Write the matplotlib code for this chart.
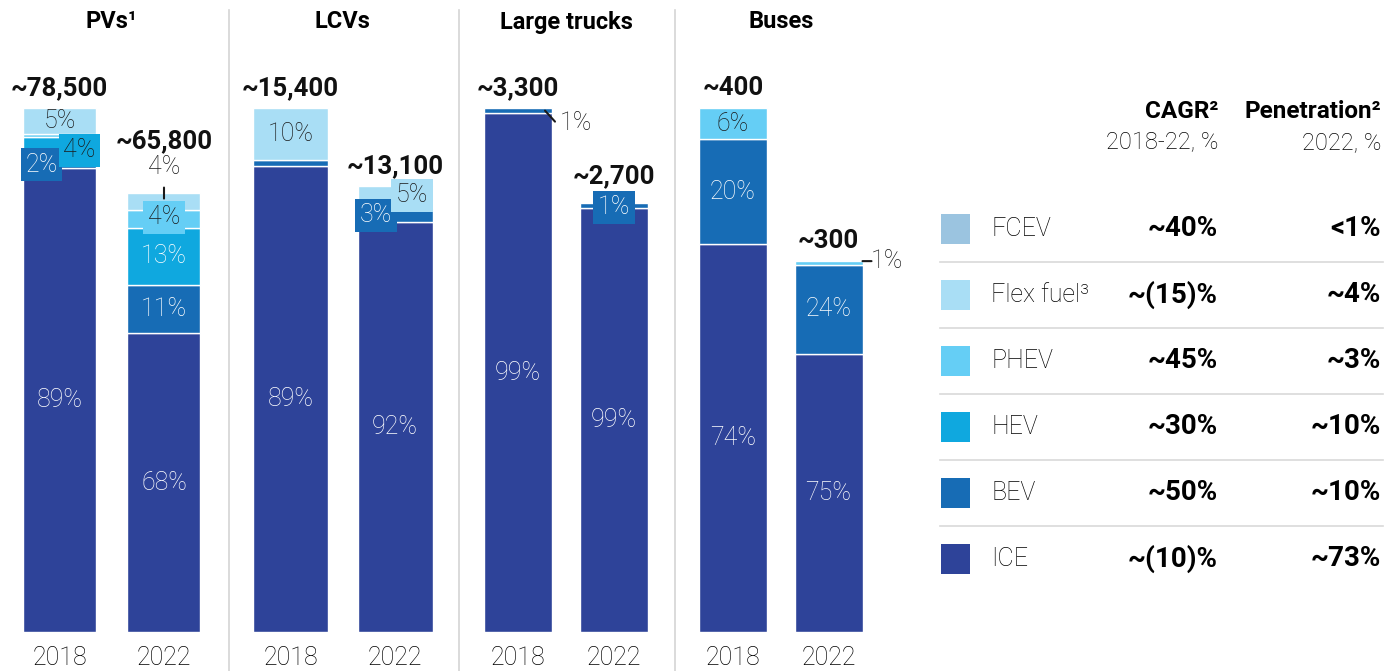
import matplotlib
matplotlib.use('agg')
import matplotlib.pyplot as plt
from matplotlib.patches import Rectangle
from matplotlib.transforms import blended_transform_factory, offset_copy

plt.rcParams['font.family'] = ['Roboto', 'DejaVu Sans']

W, H = 1396, 671

segments = ['ICE', 'BEV', 'HEV', 'PHEV', 'Flex fuel', 'FCEV']
colors = {'ICE': '#2E4399', 'BEV': '#176CB5', 'HEV': '#0FA8DF',
          'PHEV': '#65CEF5', 'Flex fuel': '#A9DEF5', 'FCEV': '#9BC4E0'}
dark_text = ['PHEV', 'Flex fuel', 'FCEV']

panels = ['PVs¹', 'LCVs', 'Large trucks', 'Buses']
years = ['2018', '2022']
totals = [[78500, 65800], [15400, 13100], [3300, 2700], [400, 283]]
total_labels = [['~78,500', '~65,800'], ['~15,400', '~13,100'],
                ['~3,300', '~2,700'], ['~400', '~300']]

# shares in %, order: ICE, BEV, HEV, PHEV, Flex fuel, FCEV
pvs_2018 = [89, 2, 4, 0.5, 5, 0]
pvs_2022 = [68, 11, 13, 4, 4, 0]
lcvs_2018 = [89, 1, 0, 0, 10, 0]
lcvs_2022 = [92, 3, 0, 0, 5, 0]
trucks_2018 = [99, 1, 0, 0, 0, 0]
trucks_2022 = [99, 1, 0, 0, 0, 0]
buses_2018 = [74, 20, 0, 6, 0, 0]
buses_2022 = [75, 24, 0, 1, 0, 0]
shares = [[pvs_2018, pvs_2022], [lcvs_2018, lcvs_2022],
          [trucks_2018, trucks_2022], [buses_2018, buses_2022]]

legend_names = ['FCEV', 'Flex fuel³', 'PHEV', 'HEV', 'BEV', 'ICE']
legend_keys = ['FCEV', 'Flex fuel', 'PHEV', 'HEV', 'BEV', 'ICE']
cagr = ['~40%', '~(15)%', '~45%', '~30%', '~50%', '~(10)%']
penetration = ['<1%', '~4%', '~3%', '~10%', '~10%', '~73%']

# layout in pixels: panel left, panel right, bar centres, bar width
layout = [(0, 229, 59.5, 164, 73), (229, 459, 290.5, 395, 75),
          (459, 675, 518, 614, 68), (675, 920, 733, 828.5, 68)]
BASE = 632   # bar baseline (px from top)
FULL = 524   # height of the 2018 bars in px
INK = '#1a1a1a'

# special label placements (panel, year, segment):
# mode, text dx/dy px (down +), leader line (x1, y1, x2, y2) px, text colour
special = {
    (0, 0, 'HEV'): ('box', 20, 3, None, INK),
    (0, 0, 'BEV'): ('box', -18, 2, None, 'white'),
    (0, 1, 'Flex fuel'): ('free', 0, -35, (0, -14, 0, -3), INK),
    (0, 1, 'PHEV'): ('box', 0, -2, None, INK),
    (1, 1, 'BEV'): ('box', -19, 0, None, 'white'),
    (1, 1, 'Flex fuel'): ('box', 17, -2, None, INK),
    (2, 0, 'BEV'): ('free', 58, 12, (27, 0, 37, 11), INK),
    (2, 1, 'BEV'): ('box', 0, 2, None, 'white'),
    (3, 1, 'PHEV'): ('free', 58, -2, (34, -2, 43, -2), INK),
}
total_gap = {(0, 1): 52, (2, 1): 27}

fig = plt.figure(figsize=(W / 100, H / 100), dpi=100)
over = fig.add_axes([0, 0, 1, 1])
over.set_xlim(0, W)
over.set_ylim(H, 0)
over.axis('off')

for p, (l, r, c0, c1, bw) in enumerate(layout):
    s = c1 - c0
    ax = fig.add_axes([l / W, (H - BASE) / H, (r - l) / W, BASE / H])
    ax.patch.set_visible(False)
    ax.set_xlim((l - c0) / s, (r - c0) / s)
    ax.set_ylim(0, totals[p][0] * BASE / FULL)
    for sp in ax.spines.values():
        sp.set_visible(False)
    ax.set_yticks([])
    ax.set_xticks([0, 1], years)
    ax.tick_params(axis='x', length=0, pad=10, labelsize=18)
    for t in ax.get_xticklabels():
        t.set_fontweight('light')
    trans = blended_transform_factory(ax.transData, fig.transFigure)
    ax.text(0.5, 1 - 22 / H, panels[p], transform=trans, ha='center', va='center',
            fontsize=17, fontweight='bold')
    for yi in range(2):
        vals = shares[p][yi]
        tot = totals[p][yi]
        norm = sum(vals)
        bottom = 0
        for k, seg in enumerate(segments):
            v = vals[k]
            if v == 0:
                continue
            h = tot * v / norm
            ax.bar(yi, h, bottom=bottom, width=bw / s, color=colors[seg],
                   edgecolor='white', linewidth=1.0)
            mid = bottom + h / 2
            bottom += h
            lab = f'{v:g}%'
            spec = special.get((p, yi, seg))
            if spec is None:
                if v >= 5:
                    tc = INK if seg in dark_text else 'white'
                    ax.text(yi, mid, lab, ha='center', va='center', color=tc,
                            fontsize=18, fontweight='light')
                continue
            mode, dx, dy, lead, tc = spec
            tr = offset_copy(ax.transData, fig=fig, x=dx, y=-dy, units='dots')
            if mode == 'box':
                ax.text(yi, mid, lab, transform=tr, ha='center', va='center',
                        color=tc, fontsize=18, fontweight='light',
                        bbox=dict(boxstyle='square,pad=0.18', fc=colors[seg], ec='none'))
            else:
                ax.text(yi, mid, lab, transform=tr, ha='center', va='center',
                        color=tc, fontsize=18, fontweight='light')
            if lead is not None:
                x1, y1, x2, y2 = lead
                t1 = offset_copy(ax.transData, fig=fig, x=x1, y=-y1, units='dots')
                t2 = offset_copy(ax.transData, fig=fig, x=x2, y=-y2, units='dots')
                ax.annotate('', xy=(yi, mid), xycoords=t2, xytext=(yi, mid), textcoords=t1,
                            arrowprops=dict(arrowstyle='-', color=INK, lw=1.5,
                                            shrinkA=0, shrinkB=0))
        gap = total_gap.get((p, yi), 20)
        ax.text(yi, tot, total_labels[p][yi],
                transform=offset_copy(ax.transData, fig=fig, x=0, y=gap, units='dots'),
                ha='center', va='center', fontsize=18.5, fontweight='bold', color='#111111')

# panel separators
for x in [229, 459, 675]:
    over.plot([x, x], [10, H], color='#d4d4d4', lw=1.2)

# legend table
over.text(1218, 112, 'CAGR²', ha='right', va='center', fontsize=17.5, fontweight='bold')
over.text(1218, 143, '2018-22, %', ha='right', va='center', fontsize=17, fontweight='light')
over.text(1381, 112, 'Penetration²', ha='right', va='center', fontsize=17.5, fontweight='bold')
over.text(1381, 143, '2022, %', ha='right', va='center', fontsize=17, fontweight='light')
for i, name in enumerate(legend_names):
    y = 229 + 66 * i
    over.add_patch(Rectangle((941, y - 15), 29, 30, color=colors[legend_keys[i]], lw=0))
    over.text(991, y, name, ha='left', va='center', fontsize=18, fontweight='light')
    over.text(1218, y, cagr[i], ha='right', va='center', fontsize=20, fontweight='bold')
    over.text(1381, y, penetration[i], ha='right', va='center', fontsize=20, fontweight='bold')
    if i < len(legend_names) - 1:
        over.plot([940, 1383], [y + 33, y + 33], color='#d9d9d9', lw=1.2)

fig.savefig('out.png', dpi=100)
